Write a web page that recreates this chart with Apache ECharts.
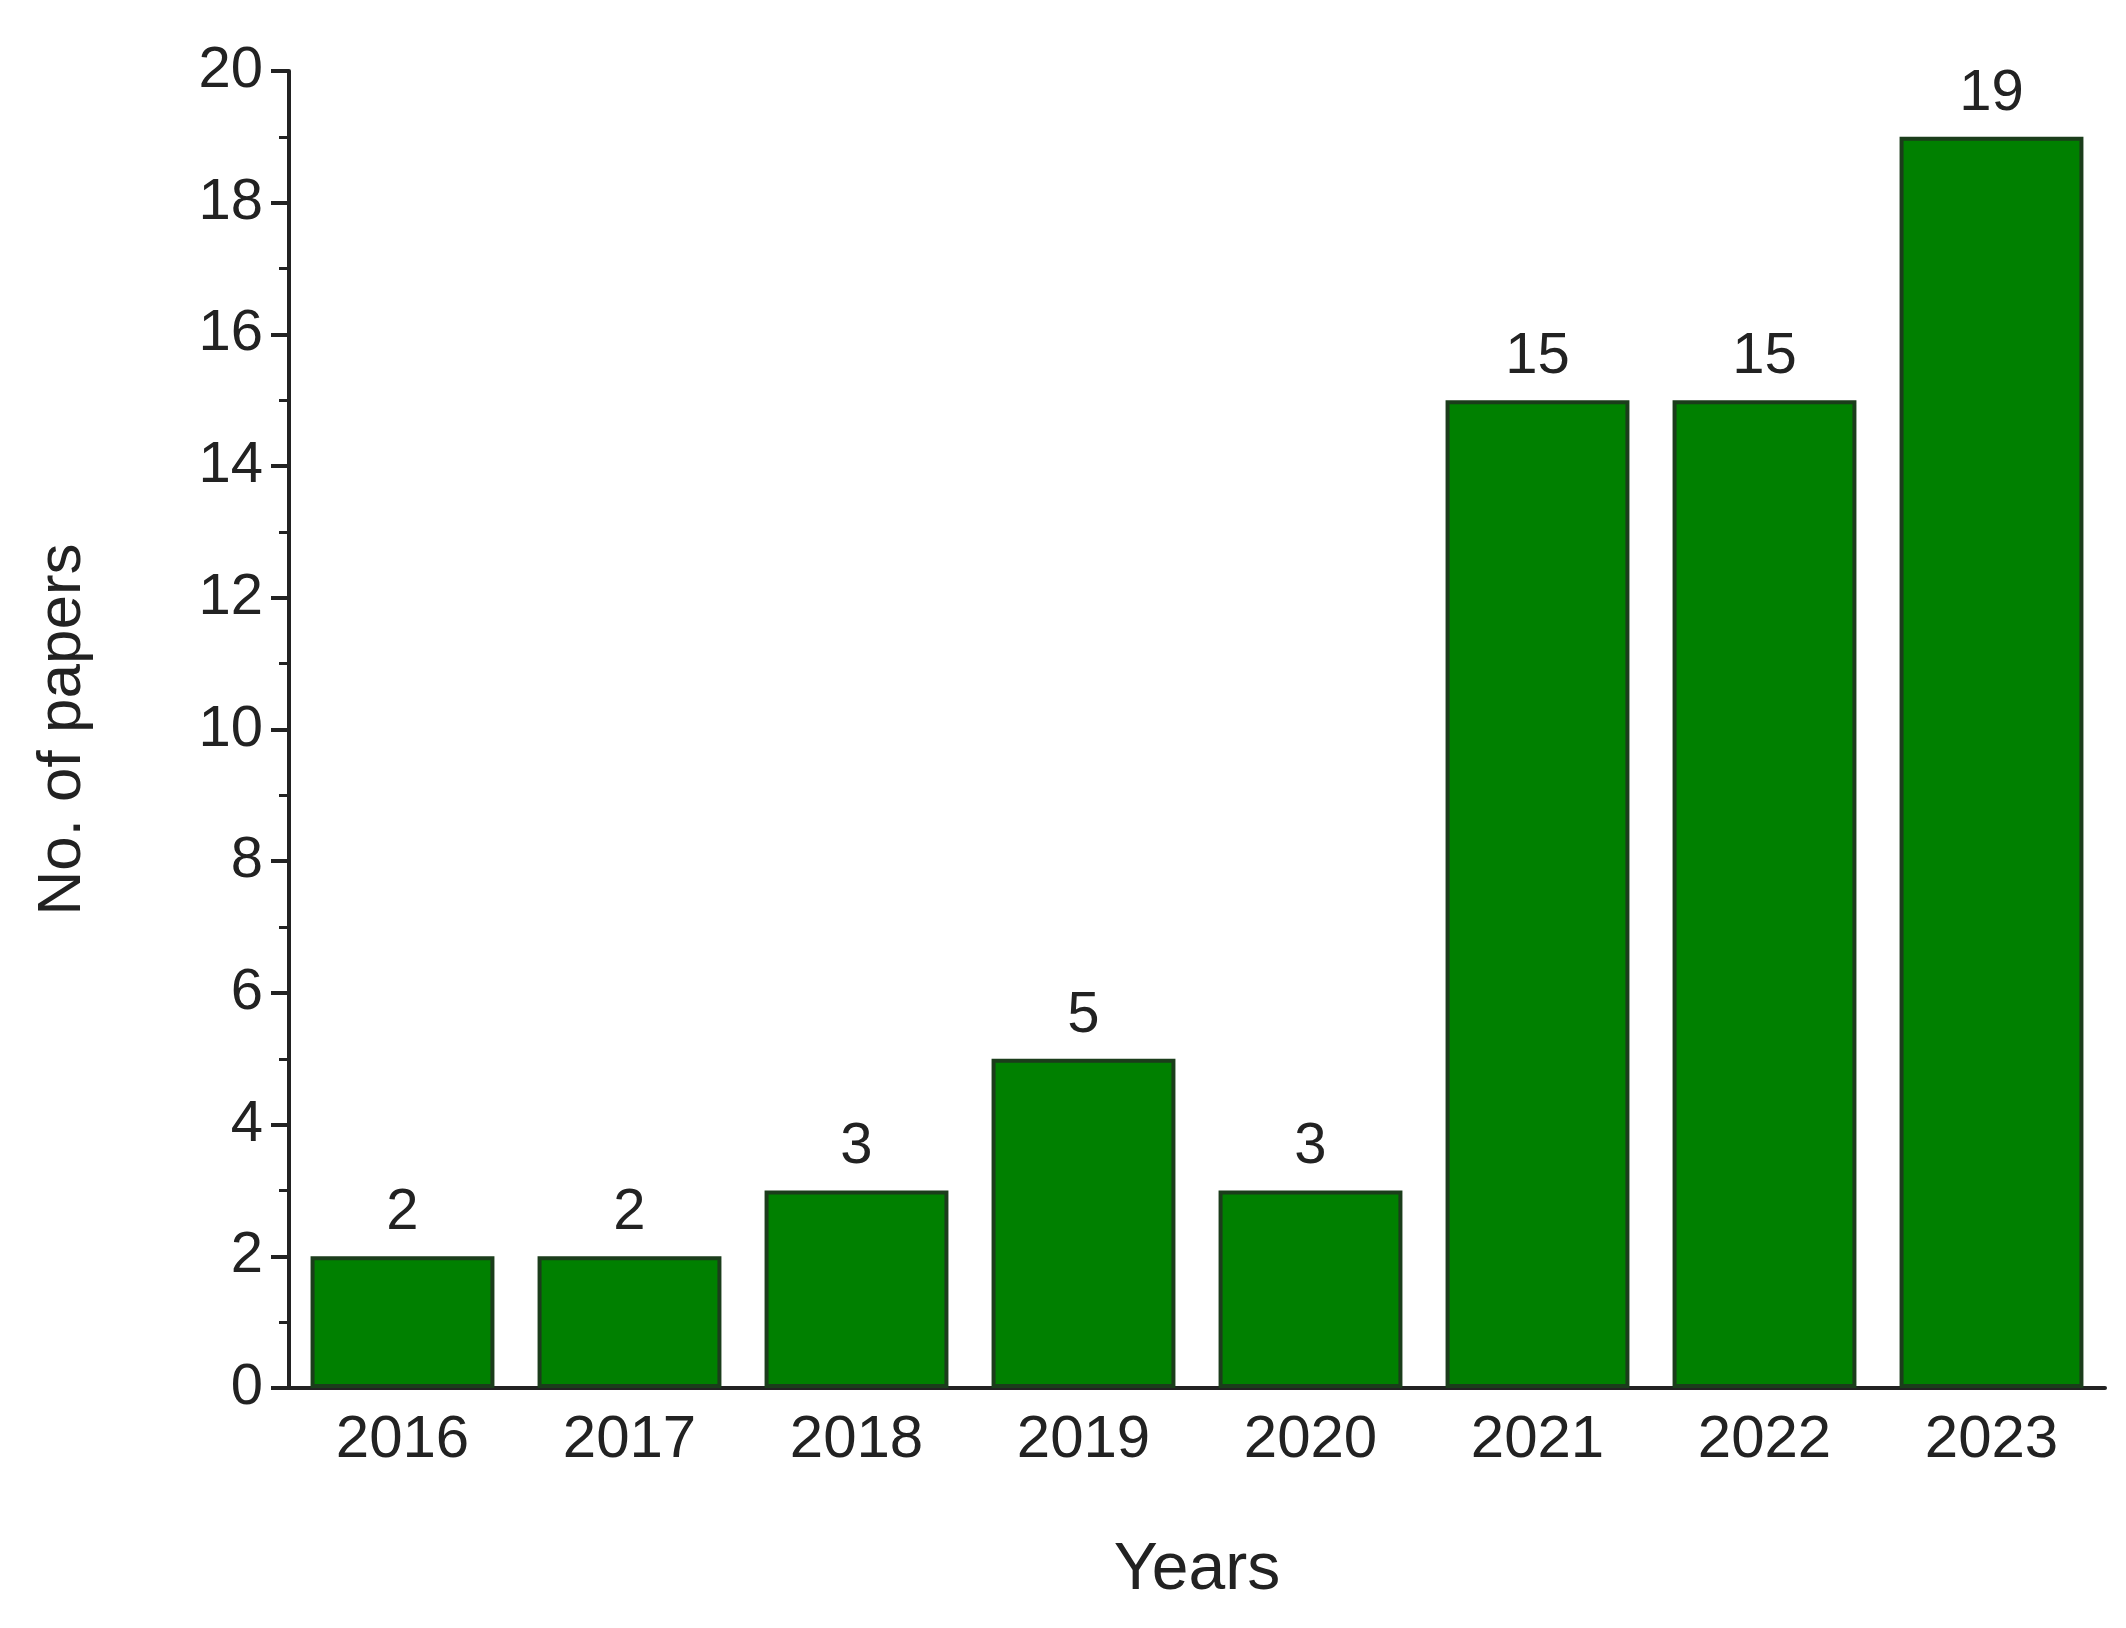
<!DOCTYPE html>
<html><head><meta charset="utf-8">
<script src="https://cdn.jsdelivr.net/npm/echarts@6/dist/echarts.min.js"></script>
<style>html,body{margin:0;padding:0;background:#fff}#c{width:2126px;height:1628px}</style>
</head><body><div id="c"></div>
<script>
const years = ['2016','2017','2018','2019','2020','2021','2022','2023'];
const papers = [2,2,3,5,3,15,15,19];
const yTicks = {min:0,max:20,interval:2};
const chart = echarts.init(document.getElementById('c'));
const font = 'Liberation Sans, Arial, sans-serif';
chart.setOption({
  animation:false,
  grid:{left:289,right:21,top:71,bottom:240},
  xAxis:{type:'category',data:years,name:'Years',nameLocation:'middle',nameGap:150,
    nameTextStyle:{fontSize:66,color:'#222',fontFamily:font},
    axisLine:{lineStyle:{color:'#222',width:4}},
    axisTick:{alignWithLabel:true,length:14,lineStyle:{width:4,color:'#222'}},
    axisLabel:{fontSize:60,color:'#222',fontFamily:font,margin:22}},
  yAxis:{type:'value',min:yTicks.min,max:yTicks.max,interval:yTicks.interval,
    name:'No. of papers',nameLocation:'middle',nameGap:195,
    nameTextStyle:{fontSize:62,color:'#222',fontFamily:font},
    axisLine:{show:true,lineStyle:{color:'#222',width:4}},
    axisTick:{show:true,length:18,lineStyle:{width:4,color:'#222'}},
    minorTick:{show:true,splitNumber:2,length:10,lineStyle:{width:3,color:'#222'}},
    splitLine:{show:false},
    axisLabel:{fontSize:58,color:'#222',fontFamily:font,margin:26}},
  series:[{type:'bar',data:papers,barCategoryGap:'19%',
    itemStyle:{color:'#008000',borderColor:'#1b3d1b',borderWidth:4},
    label:{show:true,position:'top',fontSize:58,color:'#222',fontFamily:font,distance:14}}]
});
</script></body></html>
